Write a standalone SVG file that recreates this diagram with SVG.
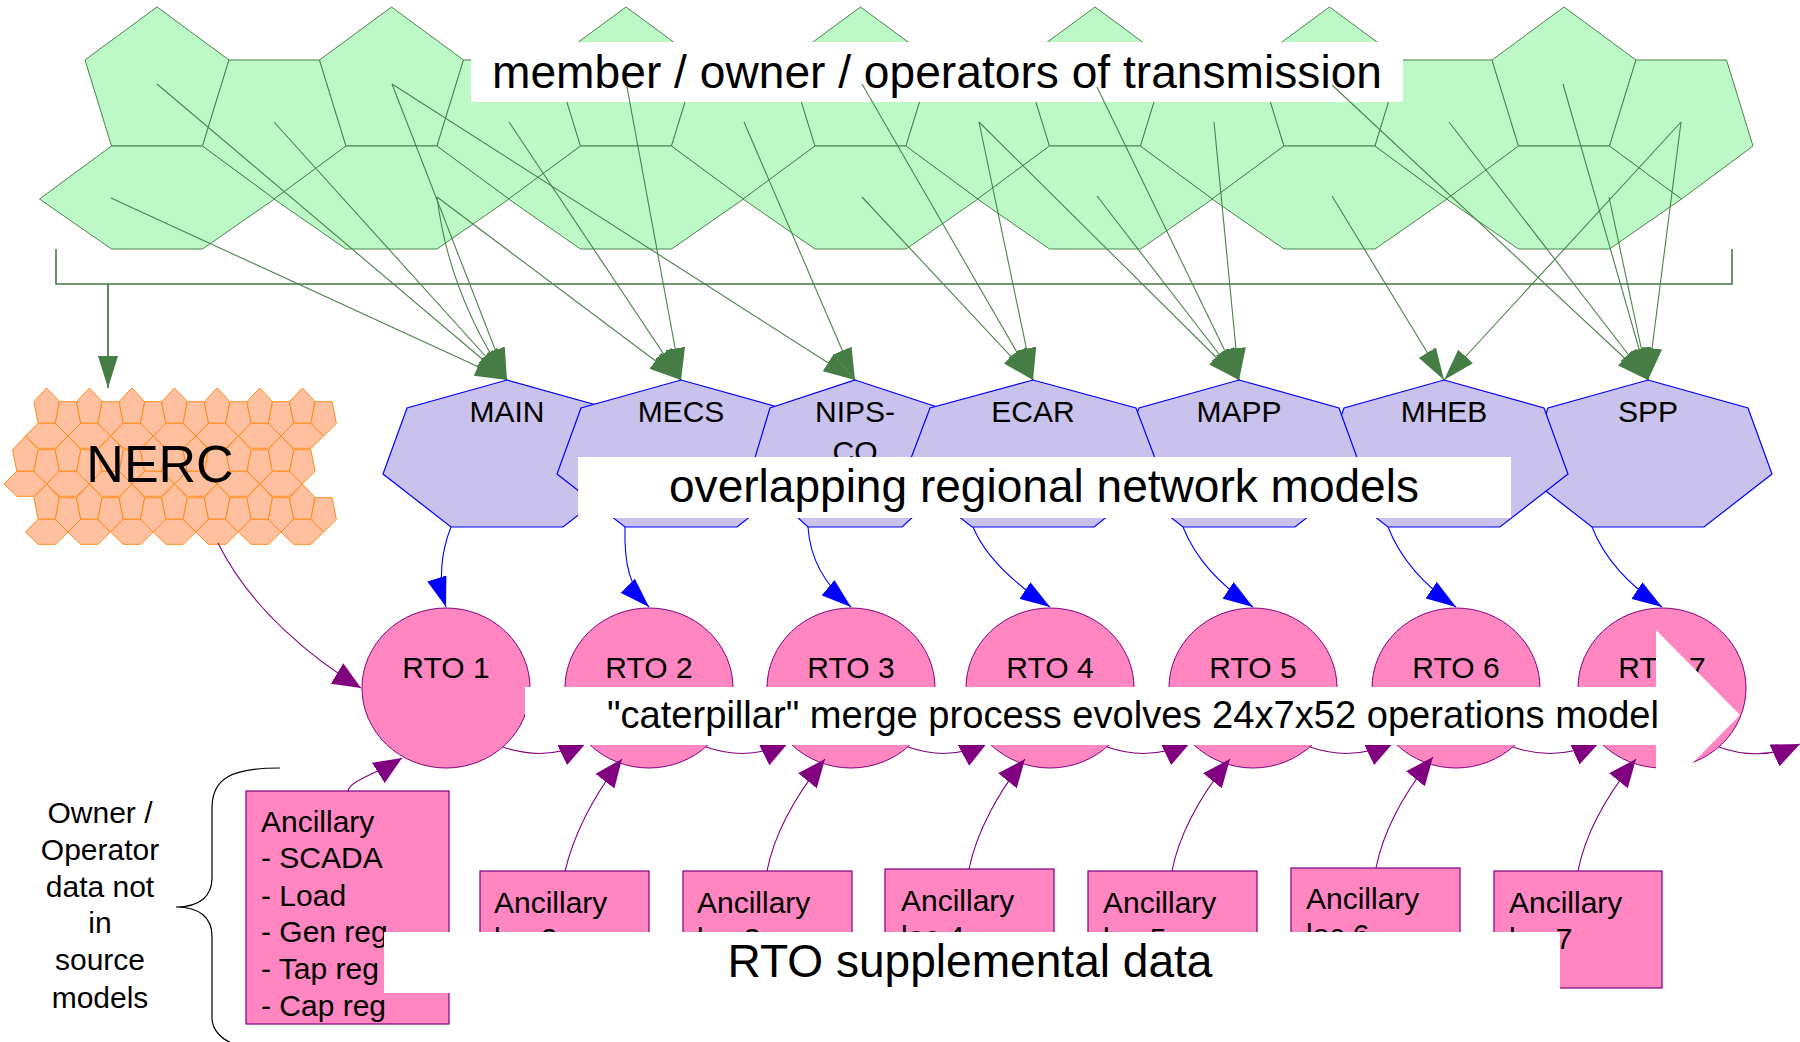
<svg xmlns="http://www.w3.org/2000/svg" xmlns:xlink="http://www.w3.org/1999/xlink" width="1800" height="1042" viewBox="0 0 1800 1042">
<style>
text{font-family:"Liberation Sans",Arial,sans-serif;fill:#000}
.g{fill:#bdf9c6;stroke:#4a834a;stroke-width:1}
.o{fill:#ffc0a0;stroke:#ff8a1a;stroke-width:1}
.gl{fill:none;stroke:#4a834a;stroke-width:1.1;marker-end:url(#ag)}
.hep{fill:#c8c2ec;stroke:#0000ff;stroke-width:1.2}
.bl{fill:none;stroke:#0000ff;stroke-width:1.1;marker-end:url(#ab)}
.rto{fill:#ff86c0;stroke:#800080;stroke-width:1}
.pl{fill:none;stroke:#800080;stroke-width:1.1;marker-end:url(#ap)}
.box{fill:#ff86c0;stroke:#800080;stroke-width:1.2}
.wb{fill:#fff;stroke:none}
.lab{font-size:30px}
.big{font-size:46px}
</style>
<defs>
<marker id="ag" markerUnits="userSpaceOnUse" viewBox="0 0 32 20" markerWidth="32" markerHeight="20" refX="32" refY="10" orient="auto"><path d="M0,0 L32,10 L0,20 z" fill="#457d45"/></marker>
<marker id="ab" markerUnits="userSpaceOnUse" viewBox="0 0 30 20" markerWidth="30" markerHeight="20" refX="30" refY="10" orient="auto"><path d="M0,0 L30,10 L0,20 z" fill="#0000ff"/></marker>
<marker id="ap" markerUnits="userSpaceOnUse" viewBox="0 0 28 24" markerWidth="28" markerHeight="24" refX="28" refY="12" orient="auto"><path d="M0,0 L28,12 L0,24 z" fill="#800080"/></marker>
<g id="gm">
<polygon class="g" points="0,7 72,60 45.5,146 -45.5,146 -72,60"/>
<polygon class="g" points="-45.5,146 45.5,146 117.5,199 45.5,249 -45.5,249 -117.5,199"/>
<polygon class="g" points="72,60 162.5,60 189,146 117.5,199 45.5,146"/>
</g>
<g id="om">
<polygon class="o" points="0,0 12.8,13.7 8.6,35.3 -8.6,35.3 -12.8,13.7"/>
<polygon class="o" points="-8.6,35.3 8.6,35.3 21.3,48 8.6,60.3 -8.6,60.3 -21.3,48"/>
<polygon class="o" points="12.8,13.7 29.8,13.7 34,35.3 21.3,48 8.6,35.3"/>
</g>
</defs>
<rect width="1800" height="1042" fill="#fff"/>

<g id="members">
<use href="#gm" x="157"/>
<use href="#gm" x="391.5"/>
<use href="#gm" x="626"/>
<use href="#gm" x="860.5"/>
<use href="#gm" x="1095"/>
<use href="#gm" x="1329.5"/>
<use href="#gm" x="1564"/>
<rect class="wb" x="471" y="42" width="932" height="60"/>
<text class="big" x="937" y="88" text-anchor="middle" textLength="890" lengthAdjust="spacingAndGlyphs">member / owner / operators of transmission</text>
</g>

<g id="connectors-members">
<path d="M56,249 L56,284 L1732,284 L1732,249" fill="none" stroke="#437a43" stroke-width="1.6"/>
<path d="M108,284 L108,388" fill="none" stroke="#437a43" stroke-width="1.8" marker-end="url(#ag)"/>
<path class="gl" d="M157,84 L507,380"/>
<path class="gl" d="M111,198 L507,380"/>
<path class="gl" d="M274,122 L507,380"/>
<path class="gl" d="M392,84 L507,380"/>
<path class="gl" d="M437,197 C445,262 468,322 507,380"/>
<path class="gl" d="M437,197 L681,380"/>
<path class="gl" d="M509,122 L681,380"/>
<path class="gl" d="M627,87 L681,380"/>
<path class="gl" d="M392,84 L855,380"/>
<path class="gl" d="M744,122 L855,380"/>
<path class="gl" d="M862,84 L1033,380"/>
<path class="gl" d="M979,122 L1033,380"/>
<path class="gl" d="M862,197 L1033,380"/>
<path class="gl" d="M979,122 L1239,380"/>
<path class="gl" d="M1097,196 L1239,380"/>
<path class="gl" d="M1097,87 L1239,380"/>
<path class="gl" d="M1214,122 L1239,380"/>
<path class="gl" d="M1332,196 L1444,380"/>
<path class="gl" d="M1681,122 L1444,380"/>
<path class="gl" d="M1332,85 L1648,380"/>
<path class="gl" d="M1449,122 L1648,380"/>
<path class="gl" d="M1563,84 L1648,380"/>
<path class="gl" d="M1609,197 L1648,380"/>
<path class="gl" d="M1681,122 L1648,380"/>
</g>

<g id="nerc">
<use href="#om" x="46.7" y="388"/><use href="#om" x="89.3" y="388"/><use href="#om" x="131.9" y="388"/><use href="#om" x="174.5" y="388"/><use href="#om" x="217.1" y="388"/><use href="#om" x="259.7" y="388"/><use href="#om" x="302.3" y="388"/>
<use href="#om" x="25.4" y="436"/><use href="#om" x="68" y="436"/><use href="#om" x="110.6" y="436"/><use href="#om" x="153.2" y="436"/><use href="#om" x="195.8" y="436"/><use href="#om" x="238.4" y="436"/><use href="#om" x="281" y="436"/>
<use href="#om" x="46.7" y="484"/><use href="#om" x="89.3" y="484"/><use href="#om" x="131.9" y="484"/><use href="#om" x="174.5" y="484"/><use href="#om" x="217.1" y="484"/><use href="#om" x="259.7" y="484"/><use href="#om" x="302.3" y="484"/>
<text x="160" y="482" font-size="52" text-anchor="middle">NERC</text>
</g>

<g id="main"><polygon class="hep" points="507,380 607,408 631,474 563,527 451,527 383,474 407,408"/><text class="lab" x="507" y="422" text-anchor="middle">MAIN</text></g>
<g id="mecs"><polygon class="hep" points="681,380 781,408 805,474 737,527 625,527 557,474 581,408"/><text class="lab" x="681" y="422" text-anchor="middle">MECS</text></g>
<g id="nipsco"><polygon class="hep" points="855,380 940,408 960,474 902,527 808,527 750,474 770,408"/><text class="lab" x="855" text-anchor="middle"><tspan x="855" y="422">NIPS-</tspan><tspan x="855" y="462">CO</tspan></text></g>
<g id="spp"><polygon class="hep" points="1648,380 1748,408 1772,474 1704,527 1592,527 1524,474 1548,408"/><text class="lab" x="1648" y="422" text-anchor="middle">SPP</text></g>
<g id="mheb"><polygon class="hep" points="1444,380 1544,408 1568,474 1500,527 1388,527 1320,474 1344,408"/><text class="lab" x="1444" y="422" text-anchor="middle">MHEB</text></g>
<g id="mapp"><polygon class="hep" points="1239,380 1339,408 1363,474 1295,527 1183,527 1115,474 1139,408"/><text class="lab" x="1239" y="422" text-anchor="middle">MAPP</text></g>
<g id="ecar"><polygon class="hep" points="1033,380 1136,408 1161,474 1094,527 972,527 905,474 930,408"/><text class="lab" x="1033" y="422" text-anchor="middle">ECAR</text></g>

<g id="connectors-models">
<path class="bl" d="M451,527 C441,552 438,582 446,607"/>
<path class="bl" d="M625,527 C624,565 630,588 649,607"/>
<path class="bl" d="M808,527 C810,560 826,586 851,607"/>
<path class="bl" d="M973,527 C985,556 1012,582 1050,607"/>
<path class="bl" d="M1183,527 C1196,560 1220,585 1253,607"/>
<path class="bl" d="M1388,527 C1401,560 1425,586 1456,607"/>
<path class="bl" d="M1592,527 C1605,560 1630,586 1662,607"/>
</g>

<g id="label-models">
<rect class="wb" x="578" y="457" width="933" height="61"/>
<text class="big" x="1044" y="502" text-anchor="middle" textLength="750" lengthAdjust="spacingAndGlyphs">overlapping regional network models</text>
</g>

<g id="rto1"><ellipse class="rto" cx="446" cy="688" rx="84" ry="80"/><text class="lab" x="446" y="678" text-anchor="middle">RTO 1</text></g>
<g id="rto2"><ellipse class="rto" cx="649" cy="688" rx="84" ry="80"/><text class="lab" x="649" y="678" text-anchor="middle">RTO 2</text></g>
<g id="rto3"><ellipse class="rto" cx="851" cy="688" rx="84" ry="80"/><text class="lab" x="851" y="678" text-anchor="middle">RTO 3</text></g>
<g id="rto4"><ellipse class="rto" cx="1050" cy="688" rx="84" ry="80"/><text class="lab" x="1050" y="678" text-anchor="middle">RTO 4</text></g>
<g id="rto5"><ellipse class="rto" cx="1253" cy="688" rx="84" ry="80"/><text class="lab" x="1253" y="678" text-anchor="middle">RTO 5</text></g>
<g id="rto6"><ellipse class="rto" cx="1456" cy="688" rx="84" ry="80"/><text class="lab" x="1456" y="678" text-anchor="middle">RTO 6</text></g>
<g id="rto7"><ellipse class="rto" cx="1662" cy="688" rx="84" ry="80"/><text class="lab" x="1662" y="678" text-anchor="middle">RTO 7</text></g>

<g id="connectors-rto">
<path class="pl" d="M218,543 C252,612 318,662 361,688"/>
<path class="pl" d="M503,747 Q546,762 587,742"/>
<path class="pl" d="M706,747 Q749,762 789,742"/>
<path class="pl" d="M908,747 Q951,762 988,742"/>
<path class="pl" d="M1107,747 Q1150,762 1191,742"/>
<path class="pl" d="M1310,747 Q1353,762 1394,742"/>
<path class="pl" d="M1513,747 Q1556,762 1600,742"/>
<path class="pl" d="M1719,747 Q1760,762 1800,744"/>
<path class="pl" d="M348,791 C350,780 375,775 402,758"/>
<path class="pl" d="M565,871 C575,830 598,790 622,759"/>
<path class="pl" d="M767,871 C775,830 800,790 825,759"/>
<path class="pl" d="M969,869 C977,830 1000,790 1025,759"/>
<path class="pl" d="M1172,871 C1180,830 1205,790 1230,759"/>
<path class="pl" d="M1376,868 C1384,828 1408,788 1433,757"/>
<path class="pl" d="M1578,871 C1586,830 1611,790 1636,759"/>
</g>

<g id="label-caterpillar">
<polygon class="wb" points="525,687 1656,687 1656,630 1740,715 1656,800 1656,745 525,745"/>
<text x="607" y="728" font-size="39" textLength="1052" lengthAdjust="spacingAndGlyphs">"caterpillar" merge process evolves 24x7x52 operations model</text>
</g>

<g id="anc1"><rect class="box" x="246" y="791" width="203" height="233"/>
<text class="lab"><tspan x="261" y="832">Ancillary</tspan><tspan x="261" y="868">- SCADA</tspan><tspan x="261" y="906">- Load</tspan><tspan x="261" y="942">- Gen reg</tspan><tspan x="261" y="979">- Tap reg</tspan><tspan x="261" y="1016">- Cap reg</tspan></text></g>
<g id="anc2"><rect class="box" x="480" y="871" width="169" height="117"/><text class="lab"><tspan x="494" y="913">Ancillary</tspan><tspan x="494" y="949">loc 2</tspan></text></g>
<g id="anc3"><rect class="box" x="683" y="871" width="169" height="117"/><text class="lab"><tspan x="697" y="913">Ancillary</tspan><tspan x="697" y="949">loc 3</tspan></text></g>
<g id="anc4"><rect class="box" x="885" y="869" width="169" height="119"/><text class="lab"><tspan x="901" y="911">Ancillary</tspan><tspan x="901" y="947">loc 4</tspan></text></g>
<g id="anc5"><rect class="box" x="1088" y="871" width="169" height="117"/><text class="lab"><tspan x="1103" y="913">Ancillary</tspan><tspan x="1103" y="949">loc 5</tspan></text></g>
<g id="anc6"><rect class="box" x="1291" y="868" width="169" height="120"/><text class="lab"><tspan x="1306" y="909">Ancillary</tspan><tspan x="1306" y="945">loc 6</tspan></text></g>
<g id="anc7"><rect class="box" x="1494" y="871" width="168" height="117"/><text class="lab"><tspan x="1509" y="913">Ancillary</tspan><tspan x="1509" y="949">loc 7</tspan></text></g>

<g id="label-supplemental">
<rect class="wb" x="384" y="932" width="1176" height="61"/>
<text class="big" x="970" y="977" text-anchor="middle" textLength="485" lengthAdjust="spacingAndGlyphs">RTO supplemental data</text>
</g>

<g id="owner-note">
<path d="M280,768 C232,768 212,778 212,808 L212,878 C212,896 200,907 176,907 C200,907 212,918 212,936 L212,1018 C212,1030 222,1040 234,1044" fill="none" stroke="#000" stroke-width="1.2"/>
<text class="lab" text-anchor="middle"><tspan x="100" y="823">Owner /</tspan><tspan x="100" y="860">Operator</tspan><tspan x="100" y="897">data not</tspan><tspan x="100" y="933">in</tspan><tspan x="100" y="970">source</tspan><tspan x="100" y="1008">models</tspan></text>
</g>
</svg>
